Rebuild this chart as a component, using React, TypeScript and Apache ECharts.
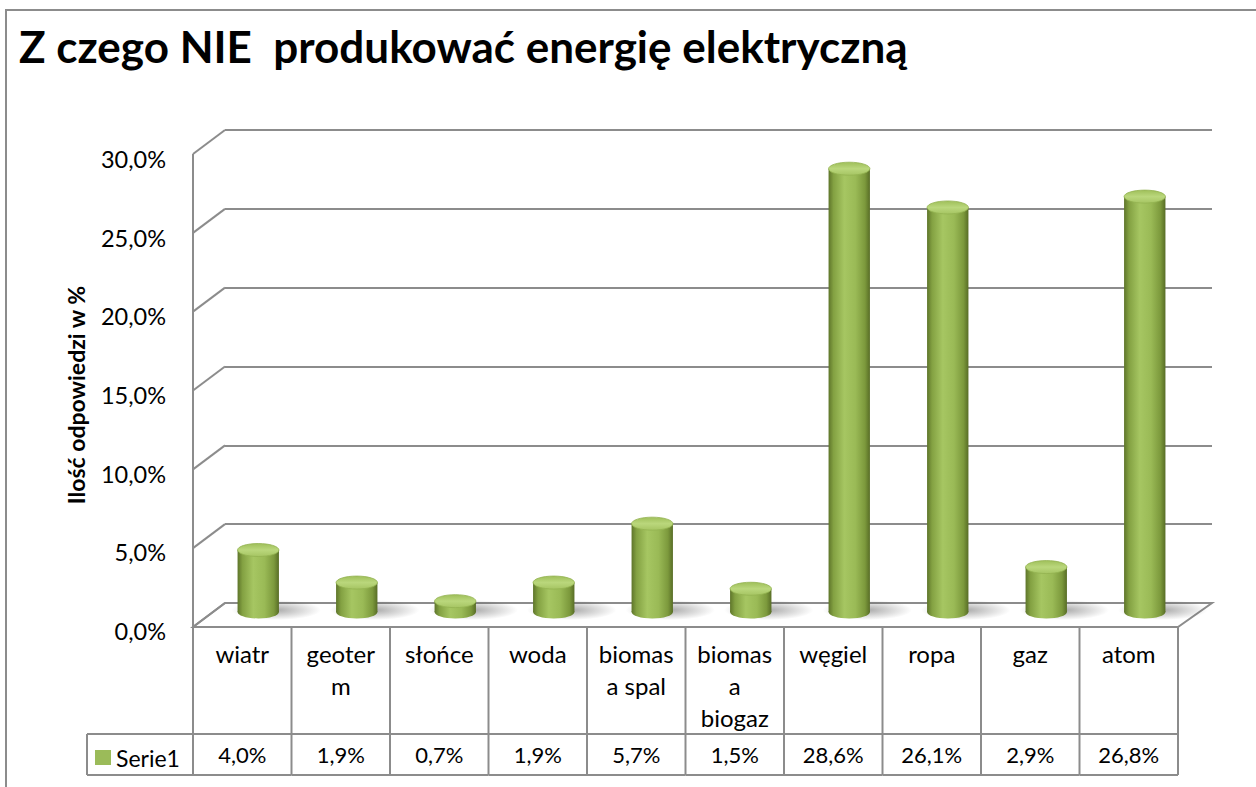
import React, { useEffect, useRef } from 'react';
import * as echarts from 'echarts';

const titleText = 'Z czego NIE  produkować energię elektryczną';
const yAxisTitle = 'Ilość odpowiedzi w %';
const seriesName = 'Serie1';
const categories = ['wiatr', 'geoterm', 'słońce', 'woda', 'biomasa spal', 'biomasa biogaz', 'węgiel', 'ropa', 'gaz', 'atom'];
const categoryLabels = ['wiatr', 'geoter\nm', 'słońce', 'woda', 'biomas\na spal', 'biomas\na\nbiogaz', 'węgiel', 'ropa', 'gaz', 'atom'];
const values = [4.0, 1.9, 0.7, 1.9, 5.7, 1.5, 28.6, 26.1, 2.9, 26.8];
const yTicks = [0, 5, 10, 15, 20, 25, 30];

const fmt = (v: number) => v.toFixed(1).replace('.', ',') + '%';

const FONT = 'Lato';
const LINE = '#8c8c8c';
const DX = -32;
const DY = 24;

export default function App() {
  const ref = useRef<HTMLDivElement>(null);
  useEffect(() => {
    if (!ref.current) return;
    const chart = echarts.init(ref.current, undefined, { renderer: 'svg' });

    const bodyGrad = () =>
      new echarts.graphic.LinearGradient(0, 0, 1, 0, [
        { offset: 0, color: '#5e752a' },
        { offset: 0.12, color: '#83a142' },
        { offset: 0.38, color: '#a6c662' },
        { offset: 0.65, color: '#9aba56' },
        { offset: 0.88, color: '#7c993c' },
        { offset: 1, color: '#586d26' },
      ]);
    const topGrad = () =>
      new echarts.graphic.LinearGradient(0, 0, 0, 1, [
        { offset: 0, color: '#9fbf5a' },
        { offset: 0.5, color: '#bad77c' },
        { offset: 1, color: '#a6c563' },
      ]);

    const axisBase = (gridIndex: number) => ({
      gridIndex,
      type: 'value',
      min: 0,
      max: 30,
      interval: 5,
      axisLine: { show: false },
      axisTick: { show: false },
      axisLabel: { show: false },
      splitLine: { show: false },
    });
    const xBase = (gridIndex: number) => ({
      gridIndex,
      type: 'category',
      data: categories,
      show: false,
    });

    const option: any = {
      animation: false,
      backgroundColor: '#ffffff',
      textStyle: { fontFamily: FONT },
      title: {
        text: titleText,
        left: 14,
        top: 19,
        textStyle: { fontFamily: FONT, fontWeight: 'bold', fontSize: 44, color: '#000' },
      },
      legend: {
        data: [seriesName],
        left: 95,
        top: 746,
        icon: 'rect',
        itemWidth: 16,
        itemHeight: 15,
        padding: 0,
        textStyle: { fontFamily: FONT, fontSize: 23, color: '#000' },
        selectedMode: false,
      },
      grid: [
        { left: 225, right: 44, top: 130, bottom: 184, containLabel: false, outerBoundsMode: 'none' },
        { left: 193, right: 78, top: 159, bottom: 156, containLabel: false, outerBoundsMode: 'none' },
        { left: 193, right: 78, top: 154, bottom: 160, containLabel: false, outerBoundsMode: 'none' },
        { left: 209, right: 62, top: 147, bottom: 175, containLabel: false, outerBoundsMode: 'none' },
      ],
      xAxis: [xBase(0), xBase(1), xBase(2), xBase(3)],
      yAxis: [
        { ...axisBase(0), splitLine: { show: true, lineStyle: { color: LINE, width: 2 } } },
        {
          ...axisBase(1),
          axisLabel: { show: true, margin: 27, fontSize: 23.5, color: '#000', fontFamily: FONT, formatter: (v: number) => fmt(v) },
          name: yAxisTitle,
          nameLocation: 'middle',
          nameRotate: 90,
          nameGap: 106,
          nameTextStyle: { fontFamily: FONT, fontWeight: 'bold', fontSize: 23, color: '#000' },
        },
        axisBase(2),
        axisBase(3),
      ],
      graphic: [
        { type: 'rect', shape: { x: 6, y: 10, width: 1300, height: 900 }, style: { fill: 'none', stroke: LINE, lineWidth: 2 }, silent: true },
        { type: 'line', shape: { x1: 87, y1: 734, x2: 193, y2: 734 }, style: { stroke: LINE, lineWidth: 2 }, silent: true },
        { type: 'line', shape: { x1: 87, y1: 775, x2: 193, y2: 775 }, style: { stroke: LINE, lineWidth: 2 }, silent: true },
        { type: 'line', shape: { x1: 87, y1: 734, x2: 87, y2: 775 }, style: { stroke: LINE, lineWidth: 2 }, silent: true },
      ],
      series: [
        {
          type: 'custom',
          name: 'frame',
          xAxisIndex: 0,
          yAxisIndex: 0,
          silent: true,
          data: yTicks.map((v) => [0, v]),
          renderItem: (params: any, api: any) => {
            const cs = params.coordSys;
            const y = api.coord([0, api.value(1)])[1];
            const children: any[] = [
              { type: 'line', shape: { x1: cs.x, y1: y, x2: cs.x + DX, y2: y + DY }, style: { stroke: LINE, lineWidth: 2 } },
            ];
            if (params.dataIndex === 0) {
              const yTop = api.coord([0, yTicks[yTicks.length - 1]])[1];
              children.unshift({
                type: 'polygon',
                shape: {
                  points: [
                    [cs.x, y],
                    [cs.x + cs.width, y],
                    [cs.x + cs.width + DX - 2, y + DY],
                    [cs.x + DX, y + DY],
                  ],
                },
                style: { fill: '#ffffff', stroke: LINE, lineWidth: 2 },
              });
              children.push({
                type: 'line',
                shape: { x1: cs.x + DX, y1: yTop + DY, x2: cs.x + DX, y2: y + DY },
                style: { stroke: LINE, lineWidth: 2 },
              });
            }
            return { type: 'group', children };
          },
        },
        {
          type: 'custom',
          name: 'table',
          xAxisIndex: 2,
          yAxisIndex: 2,
          silent: true,
          data: values.map((v, i) => [i, v]),
          renderItem: (params: any, api: any) => {
            const cs = params.coordSys;
            const i = api.value(0);
            const v = api.value(1);
            const cx = api.coord([i, 0])[0];
            const w = api.size([1, 0])[0];
            const top = cs.y + cs.height;
            const rowSplit = top + 107;
            const bottom = top + 148;
            const children: any[] = [
              { type: 'line', shape: { x1: cx - w / 2, y1: top, x2: cx - w / 2, y2: bottom }, style: { stroke: LINE, lineWidth: 2 } },
              { type: 'line', shape: { x1: cx - w / 2, y1: rowSplit, x2: cx + w / 2, y2: rowSplit }, style: { stroke: LINE, lineWidth: 2 } },
              { type: 'line', shape: { x1: cx - w / 2, y1: bottom, x2: cx + w / 2, y2: bottom }, style: { stroke: LINE, lineWidth: 2 } },
              {
                type: 'text',
                style: {
                  x: cx,
                  y: top + 10,
                  text: categoryLabels[i],
                  align: 'center',
                  verticalAlign: 'top',
                  fontFamily: FONT,
                  fontSize: 24,
                  lineHeight: 32,
                  fill: '#000',
                },
              },
              {
                type: 'text',
                style: {
                  x: cx,
                  y: (rowSplit + bottom) / 2,
                  text: fmt(v),
                  align: 'center',
                  verticalAlign: 'middle',
                  fontFamily: FONT,
                  fontSize: 22,
                  fill: '#000',
                },
              },
            ];
            if (params.dataIndex === values.length - 1) {
              children.push({ type: 'line', shape: { x1: cx + w / 2, y1: top, x2: cx + w / 2, y2: bottom }, style: { stroke: LINE, lineWidth: 2 } });
            }
            return { type: 'group', children };
          },
        },
        {
          type: 'custom',
          name: seriesName,
          xAxisIndex: 3,
          yAxisIndex: 3,
          itemStyle: { color: '#9bbb59' },
          data: values.map((v, i) => [i, v]),
          renderItem: (params: any, api: any) => {
            const i = api.value(0);
            const v = api.value(1);
            const base = api.coord([i, 0]);
            const topP = api.coord([i, v]);
            const bw = api.size([1, 0])[0];
            const rx = bw * 0.21;
            const ry = 6.5;
            const x = base[0];
            return {
              type: 'group',
              children: [
                {
                  type: 'ellipse',
                  shape: { cx: x + 18, cy: base[1] - 2, rx: rx + 24, ry: 10 },
                  style: {
                    fill: new echarts.graphic.RadialGradient(0.5, 0.5, 0.5, [
                      { offset: 0, color: 'rgba(70,70,70,0.45)' },
                      { offset: 1, color: 'rgba(70,70,70,0)' },
                    ]),
                  },
                },
                { type: 'ellipse', shape: { cx: x, cy: base[1], rx, ry }, style: { fill: bodyGrad() } },
                { type: 'rect', shape: { x: x - rx, y: topP[1], width: 2 * rx, height: base[1] - topP[1] }, style: { fill: bodyGrad() } },
                { type: 'ellipse', shape: { cx: x, cy: topP[1], rx, ry }, style: { fill: topGrad(), stroke: '#93b250', lineWidth: 0.8 } },
              ],
            };
          },
        },
      ],
    };
    chart.setOption(option);
    return () => chart.dispose();
  }, []);
  return <div ref={ref} style={{ position: 'absolute', left: 0, top: 0, width: 1256, height: 787, background: '#fff' }} />;
}
